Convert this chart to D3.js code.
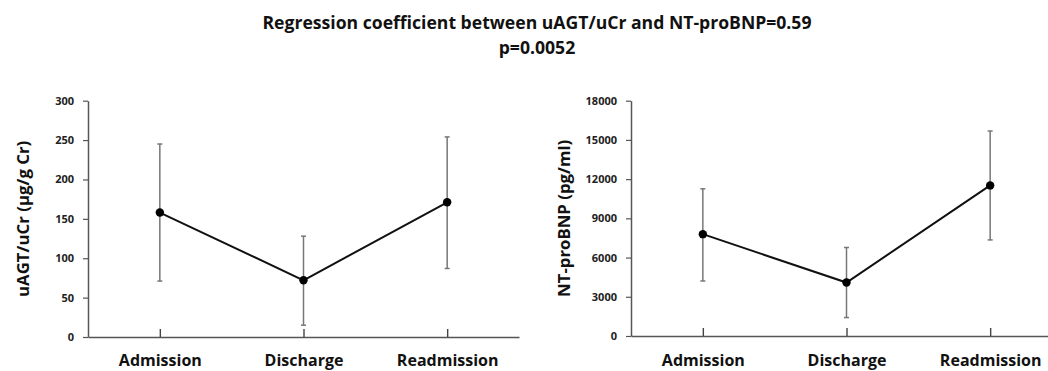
<!DOCTYPE html>
<html>
<head>
<meta charset="utf-8">
<script src="https://cdn.jsdelivr.net/npm/d3@7"></script>
<style>
  body { margin: 0; background: #fff; }
  svg { display: block; font-family: "Open Sans", sans-serif; }
</style>
</head>
<body>
<div id="chart"></div>
<script>
const categories = ["Admission", "Discharge", "Readmission"];

// urinary angiotensinogen / creatinine (µg/g Cr)
const uagtMean = [158, 72, 171];
const uagtLow = [71, 15, 87];
const uagtHigh = [245, 128, 254];
const uagtTicks = [0, 50, 100, 150, 200, 250, 300];

// NT-proBNP (pg/ml)
const bnpMean = [7790, 4090, 11520];
const bnpLow = [4210, 1410, 7350];
const bnpHigh = [11260, 6770, 15680];
const bnpTicks = [0, 3000, 6000, 9000, 12000, 15000, 18000];

const titleLines = ["Regression coefficient between uAGT/uCr and NT-proBNP=0.59", "p=0.0052"];

const width = 1048, height = 371;

const svg = d3.select("#chart").append("svg")
  .attr("width", width)
  .attr("height", height);

svg.append("g")
  .selectAll("text")
  .data(titleLines)
  .join("text")
  .attr("x", 537)
  .attr("y", (d, i) => 29 + i * 25)
  .attr("text-anchor", "middle")
  .style("font-size", "17.6px")
  .style("font-weight", "bold")
  .attr("fill", "#111")
  .text(d => d);

const panels = [
  { left: 88, bottom: 337, top: 100.7, label: "uAGT/uCr (µg/g Cr)", labelX: 29,
    mean: uagtMean, low: uagtLow, high: uagtHigh, ticks: uagtTicks },
  { left: 631, bottom: 336, top: 100.7, label: "NT-proBNP (pg/ml)", labelX: 570,
    mean: bnpMean, low: bnpLow, high: bnpHigh, ticks: bnpTicks }
];

panels.forEach(p => {
  const x = d3.scalePoint().domain(categories).range([p.left, p.left + 431]).padding(0.5);
  const y = d3.scaleLinear().domain([0, d3.max(p.ticks)]).range([p.bottom, p.top]);
  const g = svg.append("g");

  // y axis
  const yAxis = g.append("g")
    .attr("transform", `translate(${p.left},0)`)
    .call(d3.axisLeft(y).tickValues(p.ticks).tickFormat(d3.format("d"))
      .tickSize(5).tickPadding(9).tickSizeOuter(0));
  yAxis.select(".domain").attr("stroke", "#555").attr("stroke-width", 1.5);
  yAxis.selectAll(".tick line").attr("stroke", "#555").attr("stroke-width", 1.2);
  yAxis.selectAll(".tick text")
    .attr("fill", "#222")
    .style("font-size", "11px")
    .style("font-weight", "bold")
    .style("font-family", "'Open Sans', sans-serif");

  // x axis; the category ticks point up into the plot
  const xAxis = g.append("g")
    .attr("transform", `translate(0,${p.bottom})`)
    .call(d3.axisBottom(x).tickSize(0).tickPadding(366 - p.bottom).tickSizeOuter(0));
  xAxis.select(".domain").attr("stroke", "#555").attr("stroke-width", 1.5);
  xAxis.selectAll(".tick line").remove();
  xAxis.selectAll(".tick").append("line")
    .attr("y1", 0).attr("y2", -8)
    .attr("stroke", "#444").attr("stroke-width", 1.4);
  xAxis.selectAll(".tick text")
    .attr("fill", "#111")
    .attr("dy", "0")
    .style("font-size", "16px")
    .style("font-weight", "bold")
    .style("font-family", "'Open Sans', sans-serif");

  // y label
  g.append("text")
    .attr("transform", `translate(${p.labelX},${(p.top + p.bottom) / 2}) rotate(-90)`)
    .attr("text-anchor", "middle")
    .attr("fill", "#111")
    .style("font-size", "16.8px")
    .style("font-weight", "bold")
    .text(p.label);

  // error bars
  const bars = g.append("g")
    .selectAll("g")
    .data(categories)
    .join("g");
  bars.append("line")
    .attr("x1", d => x(d)).attr("x2", d => x(d))
    .attr("y1", (d, i) => y(p.low[i])).attr("y2", (d, i) => y(p.high[i]))
    .attr("stroke", "#777").attr("stroke-width", 1.5);
  bars.append("line")
    .attr("x1", d => x(d) - 2.5).attr("x2", d => x(d) + 2.5)
    .attr("y1", (d, i) => y(p.low[i])).attr("y2", (d, i) => y(p.low[i]))
    .attr("stroke", "#777").attr("stroke-width", 1.5);
  bars.append("line")
    .attr("x1", d => x(d) - 2.5).attr("x2", d => x(d) + 2.5)
    .attr("y1", (d, i) => y(p.high[i])).attr("y2", (d, i) => y(p.high[i]))
    .attr("stroke", "#777").attr("stroke-width", 1.5);

  // mean line
  const line = d3.line()
    .x((d, i) => x(categories[i]))
    .y(d => y(d));
  g.append("path")
    .datum(p.mean)
    .attr("d", line)
    .attr("fill", "none")
    .attr("stroke", "#111")
    .attr("stroke-width", 2);

  g.append("g")
    .selectAll("circle")
    .data(p.mean)
    .join("circle")
    .attr("cx", (d, i) => x(categories[i]))
    .attr("cy", d => y(d))
    .attr("r", 4.2)
    .attr("fill", "#000");
});
</script>
</body>
</html>
